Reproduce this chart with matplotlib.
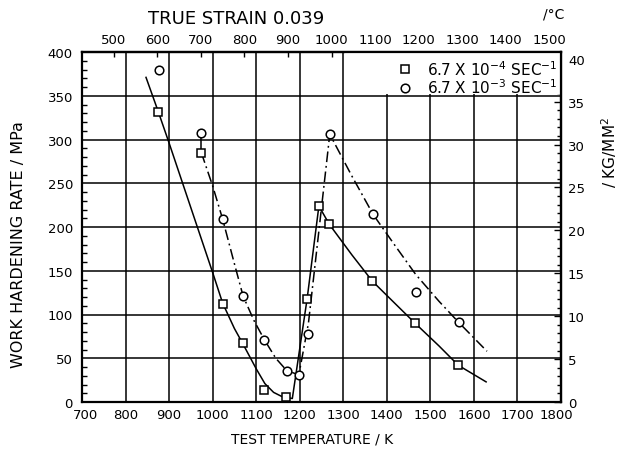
import numpy as np
import matplotlib
matplotlib.use('Agg')
import matplotlib.pyplot as plt
from matplotlib.ticker import MultipleLocator, FixedLocator
from matplotlib.patches import Rectangle
from matplotlib.transforms import ScaledTranslation

# data (K, MPa)
sq_T = [875, 974, 1023, 1070, 1119, 1168, 1217, 1244, 1268, 1367, 1465, 1564]
sq_W = [332, 285, 112, 68, 14, 6, 118, 224, 203, 138, 90, 42]
ci_T = [876, 974, 1023, 1070, 1119, 1170, 1198, 1220, 1269, 1369, 1466, 1565]
ci_W = [379, 308, 209, 121, 71, 35, 31, 78, 306, 215, 126, 91]

# hand-drawn curves in the original
solid_T = [847, 875, 900, 950, 1000, 1023, 1050, 1070, 1100, 1120, 1140, 1160, 1183,
           1217, 1244, 1268, 1320, 1367, 1420, 1465, 1520, 1564, 1628]
solid_W = [371, 332, 296, 222, 148, 113, 84, 66, 38, 21, 11, 6, 4,
           118, 224, 203, 168, 138, 112, 90, 64, 42, 23]
dash_T = [974, 1000, 1023, 1050, 1070, 1095, 1119, 1145, 1170, 1198, 1220, 1245, 1269,
          1320, 1369, 1420, 1466, 1520, 1565, 1630]
dash_W = [285, 247, 209, 158, 121, 93, 71, 50, 36, 31, 90, 200, 306,
          258, 214, 178, 146, 115, 91, 58]

x_ticks = np.arange(700, 1801, 100)
c_ticks = np.arange(500, 1501, 100)

lab_sq = r'6.7 X 10$^{-4}$ SEC$^{-1}$'
lab_ci = r'6.7 X 10$^{-3}$ SEC$^{-1}$'

KGF = 9.80665
W, H = 618, 452

plt.rcParams['font.family'] = 'DejaVu Sans'
fig = plt.figure(figsize=(W / 100, H / 100), dpi=100)
ax = fig.add_axes([82 / W, 1 - 403 / H, 479 / W, 350 / H])

ax.set_xlim(700, 1800)
ax.set_ylim(0, 400)

# grid
ax.set_xticks(x_ticks)
ax.yaxis.set_major_locator(MultipleLocator(50))
ax.yaxis.set_minor_locator(MultipleLocator(10))
ax.grid(True, which='major', color='black', linewidth=1.1)
ax.set_axisbelow(True)

# blank area for the key
ax.add_patch(Rectangle((1304, 352), 496, 48, facecolor='white', edgecolor='none', zorder=1))

# curves
ax.plot(solid_T, solid_W, color='black', linewidth=1.1, zorder=3)
ax.plot(dash_T, dash_W, color='black', linewidth=1.1, zorder=3,
        linestyle=(0, (7, 2.5, 1.2, 2.5)))
ax.plot([ci_T[1], sq_T[1]], [ci_W[1], sq_W[1]], color='black', linewidth=1.1, zorder=3)

# points
ax.plot(sq_T, sq_W, linestyle='none', marker='s', markersize=5.8, markerfacecolor='white',
        markeredgecolor='black', markeredgewidth=1.1, zorder=4, label=lab_sq)
ax.plot(ci_T, ci_W, linestyle='none', marker='o', markersize=6.2, markerfacecolor='white',
        markeredgecolor='black', markeredgewidth=1.1, zorder=4, label=lab_ci)

leg = ax.legend(loc='upper right', bbox_to_anchor=(0.994, 0.98), frameon=False,
                fontsize=11, handlelength=1.0, handletextpad=1.0, labelspacing=0.0,
                borderaxespad=0, borderpad=0)

for s in ax.spines.values():
    s.set_linewidth(1.6)

ax.tick_params(axis='both', which='major', direction='in', length=0, labelsize=9.5)
ax.tick_params(axis='x', pad=4.5)
ax.tick_params(axis='y', pad=6.5)
ax.tick_params(axis='y', which='minor', direction='in', length=3.5, width=1.0, left=True)

# top axis in deg C
top = ax.secondary_xaxis('top', functions=(lambda k: k - 273, lambda c: c + 273))
top.xaxis.set_major_locator(FixedLocator(c_ticks))
top.tick_params(direction='in', length=3.5, width=1.0, labelsize=9.5, pad=4.5)
top.spines['top'].set_linewidth(1.6)

# right axis in kg/mm2
right = ax.secondary_yaxis('right', functions=(lambda m: m / KGF, lambda k: k * KGF))
right.yaxis.set_major_locator(MultipleLocator(5))
right.yaxis.set_minor_locator(MultipleLocator(1))
right.tick_params(which='major', direction='in', length=5, width=1.0, labelsize=9.5, pad=5)
right.tick_params(which='minor', direction='in', length=3, width=1.0)
right.spines['right'].set_linewidth(1.6)

for a in (ax, top, right):
    a.xaxis.offsetText.set_visible(False)
    a.yaxis.offsetText.set_visible(False)

# nudge the end labels of the bottom axis like in the scan
labels = ax.get_xticklabels()
labels[0].set_transform(labels[0].get_transform() + ScaledTranslation(3 / 100, 0, fig.dpi_scale_trans))
labels[-1].set_transform(labels[-1].get_transform() + ScaledTranslation(-5 / 100, 0, fig.dpi_scale_trans))

fig.text(236 / W, 1 - 19 / H, 'TRUE STRAIN 0.039', fontsize=13, ha='center', va='center')
fig.text(554 / W, 1 - 14 / H, '/°C', fontsize=10, ha='center', va='center')
fig.text(312 / W, 1 - 440 / H, 'TEST TEMPERATURE / K', fontsize=10, ha='center', va='center')
fig.text(19 / W, 1 - 245 / H, 'WORK HARDENING RATE / MPa', fontsize=11.5, ha='center',
         va='center', rotation=90)
fig.text(609 / W, 1 - 152 / H, r'/ KG/MM$^2$', fontsize=11, ha='center',
         va='center', rotation=90)

fig.savefig('out.png', dpi=100)
